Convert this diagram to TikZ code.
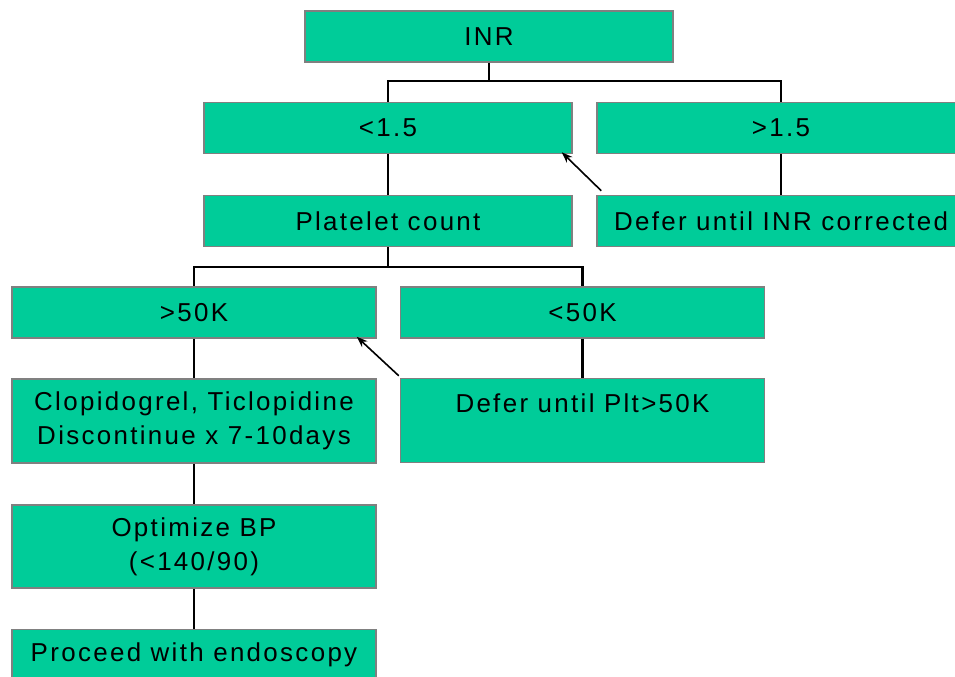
\documentclass[tikz,border=0pt]{standalone}
\usepackage{fontspec}
\setmainfont[LetterSpace=9]{Liberation Sans}
\usetikzlibrary{arrows.meta}
\definecolor{boxgreen}{RGB}{0,204,153}
\definecolor{boxedge}{RGB}{128,128,128}
\begin{document}
\begin{tikzpicture}[x=1bp,y=-1bp,
  box/.style={draw=boxedge,line width=1.5bp,fill=boxgreen,inner sep=0pt,align=center,
    font=\fontsize{26}{34}\selectfont},
  wide/.style={box,minimum width=368bp,minimum height=51bp},
  narrow/.style={box,minimum width=364bp,minimum height=51bp},
  tall/.style={box,minimum width=364bp,minimum height=84bp},
  link/.style={line width=2.2bp,black},
  pointer/.style={line width=1.6bp,black,-{Stealth[length=11bp,width=8bp]}}]
\useasboundingbox (0,0) rectangle (955,677);
\begin{scope}
\clip (0,0) rectangle (955,677);
\node[wide] (inr) at (489,36.5) {INR};
\node[wide] (lt15) at (388,128) {<1.5};
\node[wide] (gt15) at (781,128) {>1.5};
\node[wide] (plt) at (388,221) {Platelet count};
\node[wide] (definr) at (781,221) {Defer until INR corrected};
\node[narrow] (gt50) at (194,312.5) {>50K};
\node[narrow] (lt50) at (582.5,312.5) {<50K};
\node[tall] (clop) at (194,421) {Clopidogrel, Ticlopidine\\Discontinue x 7-10days};
\node[tall] (defplt) at (582.5,420.5) {Defer until Plt>50K\\\mbox{}};
\node[tall,minimum height=83bp] (bp) at (194,546.5) {Optimize BP\\(<140/90)};
\node[narrow] (proc) at (194,655) {Proceed with endoscopy};
\end{scope}
\coordinate (j1) at (489,81);
\coordinate (j2) at (388,267);
\draw[link] (inr) -- (j1);
\draw[link] (j1) -| (lt15);
\draw[link] (j1) -| (gt15);
\draw[link] (lt15) -- (plt);
\draw[link] (gt15) -- (definr);
\draw[link] (plt) -- (j2);
\draw[link] (j2) -| (gt50);
\draw[link] (j2) -| (lt50);
\draw[link] (gt50) -- (clop);
\draw[link] (clop) -- (bp);
\draw[link] (bp) -- (proc);
\draw[link] (lt50) -- (defplt);
\draw[pointer] ([xshift=5bp,yshift=4bp]definr.north west) -- ([xshift=-11bp,yshift=2bp]lt15.south east);
\draw[pointer] ([xshift=-1bp,yshift=2bp]defplt.north west) -- ([xshift=-20bp,yshift=2bp]gt50.south east);
\end{tikzpicture}
\end{document}
